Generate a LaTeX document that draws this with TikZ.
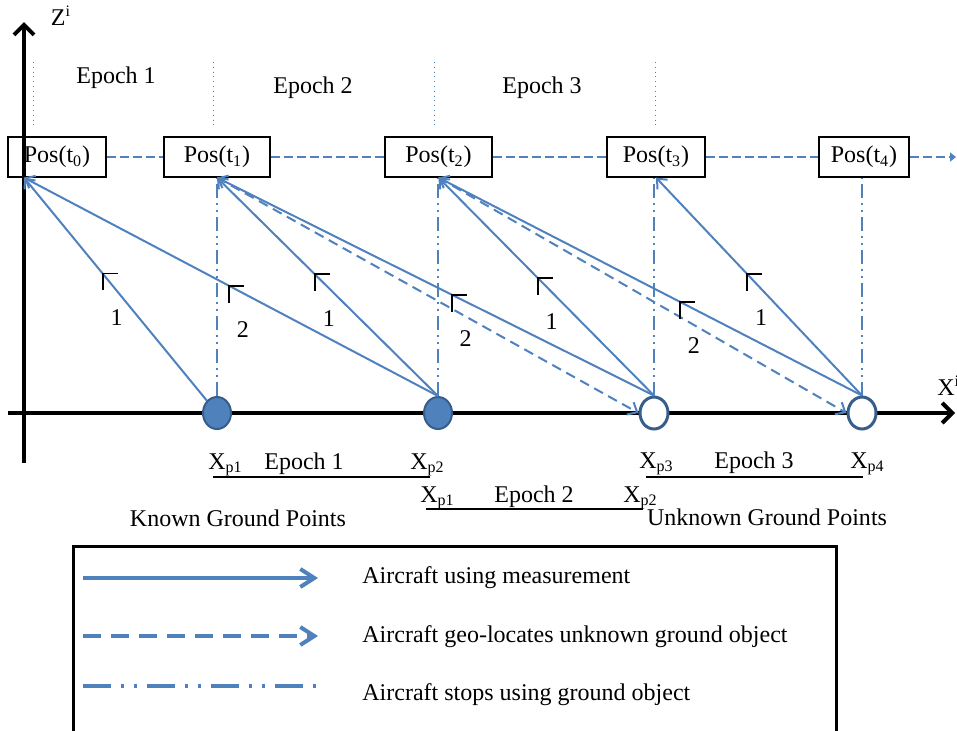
\documentclass[tikz,border=0pt]{standalone}
\usepackage{fontspec}
\setmainfont{Liberation Serif}
\usetikzlibrary{arrows.meta,shapes.geometric}
\definecolor{lineblue}{HTML}{4F81BD}
\definecolor{rimblue}{HTML}{385D8A}

\begin{document}
\begin{tikzpicture}[x=0.5pt,y=-0.5pt,
		font=\fontsize{12}{14}\selectfont,
		posbox/.style={draw,line width=0.6pt,minimum height=20pt,inner sep=0pt},
		known/.style={ellipse,draw=rimblue,line width=1pt,fill=lineblue,minimum width=14pt,minimum height=16pt,inner sep=0pt},
		unknown/.style={ellipse,draw=rimblue,line width=1.5pt,fill=white,minimum width=14pt,minimum height=16pt,inner sep=0pt},
		meas/.style={lineblue,line width=1pt,-{Straight Barb[length=4pt,width=7pt]}},
		geoloc/.style={lineblue,line width=1pt,dash pattern=on 5pt off 3pt,-{Straight Barb[length=4pt,width=7pt]}},
		stops/.style={lineblue,line width=1.2pt,dash pattern=on 7pt off 2.5pt on 1pt off 2.5pt on 1pt off 2.5pt},
		track/.style={lineblue,line width=1.2pt,dash pattern=on 4.5pt off 2pt},
		axis/.style={line width=2pt,-{Straight Barb[length=5pt,width=10pt]}},
		marker/.style={line width=0.9pt},
		span/.style={line width=1pt}]
	\useasboundingbox (0,0) rectangle (957,730);

	% axes
	\coordinate (zbase) at (24,463);
	\coordinate (ztip) at (24,22);
	\coordinate (xbase) at (8,413);
	\coordinate (xtip) at (955,413);
	\draw[axis] (zbase) -- (ztip);
	\draw[axis] (xbase) -- (xtip);
	\node[anchor=base] (zlabel) at (61,25) {Z\textsuperscript{i}};
	\node[anchor=base west,inner sep=0pt] (xlabel) at (937,395) {X\textsuperscript{i}};

	% epochs on top
	\foreach \x in {33,213,434,655}
		\draw[lineblue,line width=0.4pt,dotted] (\x,62) -- (\x,128);
	\node[anchor=base] (epa) at (116,83) {Epoch 1};
	\node[anchor=base] (epb) at (313,93) {Epoch 2};
	\node[anchor=base] (epc) at (542,93) {Epoch 3};

	% aircraft positions
	\node[posbox,minimum width=49pt] (p0) at (57,157) {Pos(t\textsubscript{0})};
	\node[posbox,minimum width=53pt] (p1) at (217,157) {Pos(t\textsubscript{1})};
	\node[posbox,minimum width=53.5pt] (p2) at (438.5,157) {Pos(t\textsubscript{2})};
	\node[posbox,minimum width=49pt] (p3) at (656,157) {Pos(t\textsubscript{3})};
	\node[posbox,minimum width=45pt] (p4) at (864,157) {Pos(t\textsubscript{4})};
	\coordinate (trackend) at (956,157);
	\draw[track] (p0) -- (p1) (p1) -- (p2) (p2) -- (p3) (p3) -- (p4);
	\draw[track,-{Triangle[length=3pt,width=4.5pt]}] (p4) -- (trackend);
	\coordinate (z0) at (zbase |- p0.south);

	% ground points
	\node[known] (xp1) at (217,413) {};
	\node[known] (xp2) at (438,413) {};
	\node[unknown] (xp3) at (654,413) {};
	\node[unknown] (xp4) at (862,413) {};

	% stops
	\draw[stops] (xp1) -- (p1);
	\draw[stops] (xp2) -- (xp2 |- p2.south);
	\draw[stops] (xp3) -- (xp3 |- p3.south);
	\draw[stops] (xp4) -- (xp4 |- p4.south);

	% measurements
	\draw[meas] (xp1) -- coordinate[pos=0.57] (ma) (z0);
	\draw[meas] (xp2.north) -- coordinate[pos=0.505] (mb) (z0);
	\draw[meas] (xp2.north) -- coordinate[pos=0.557] (mc) (p1.south);
	\draw[meas] (xp3.north) -- coordinate[pos=0.463] (md) (p1.south);
	\draw[meas] (xp3.north) -- coordinate[pos=0.54] (me) (p2.south);
	\draw[meas] (xp4.north) -- coordinate[pos=0.43] (mf) (p2.south);
	\draw[meas] (xp4.north) -- coordinate[pos=0.558] (mg) (p3.south);

	% geo-location
	\draw[geoloc] (p1.south) -- (xp3.west);
	\draw[geoloc] (p2.south) -- (xp4.west);

	\foreach \m/\n in {ma/1,mb/2,mc/1,md/2,me/1,mf/2,mg/1} {
		\draw[marker] ([xshift=7.5pt]\m) -- (\m) -- ([yshift=-8.5pt]\m);
		\node (lab\m) at ([xshift=7pt,yshift=-22pt]\m) {\n};
	}

	% epochs below
	\node[anchor=base west,inner sep=0pt] (xa1) at (208,469) {X\textsubscript{p1}};
	\node[anchor=base] (eba) at (304,469) {Epoch 1};
	\node[anchor=base west,inner sep=0pt] (xa2) at (410,469) {X\textsubscript{p2}};
	\draw[span] (213,477) -- (430,477);
	\node[anchor=base west,inner sep=0pt] (xb1) at (420,502) {X\textsubscript{p1}};
	\node[anchor=base] (ebb) at (534,502) {Epoch 2};
	\node[anchor=base west,inner sep=0pt] (xb2) at (623,502) {X\textsubscript{p2}};
	\draw[span] (426,509) -- (643,509);
	\node[anchor=base west,inner sep=0pt] (xc3) at (639,468) {X\textsubscript{p3}};
	\node[anchor=base] (ebc) at (754,468) {Epoch 3};
	\node[anchor=base west,inner sep=0pt] (xc4) at (850,468) {X\textsubscript{p4}};
	\draw[span] (646,477) -- (863,477);
	\node[anchor=base] (knownlab) at (238,526) {Known Ground Points};
	\node[anchor=base] (unknownlab) at (767,525) {Unknown Ground Points};

	% legend
	\draw[line width=1.5pt] (73,731) |- (836,546) -- (836,731);
	\coordinate (la1) at (83,578);
	\coordinate (lb1) at (318,578);
	\coordinate (la2) at (83,636);
	\coordinate (lb2) at (318,636);
	\coordinate (la3) at (83,686);
	\coordinate (lb3) at (318,686);
	\draw[meas,line width=2pt,-{Straight Barb[length=7pt,width=9pt]}] (la1) -- (lb1);
	\draw[geoloc,line width=2pt,dash pattern=on 9pt off 5pt,-{Straight Barb[length=7pt,width=9pt]}] (la2) -- (lb2);
	\draw[stops,line width=2pt,dash pattern=on 14pt off 5pt on 1.5pt off 5pt on 1.5pt off 5pt] (la3) -- (lb3);
	\node[anchor=base west,inner sep=0pt] (leg1) at (362,583) {Aircraft using measurement};
	\node[anchor=base west,inner sep=0pt] (leg2) at (362,642) {Aircraft geo-locates unknown ground object};
	\node[anchor=base west,inner sep=0pt] (leg3) at (362,700) {Aircraft stops using ground object};
\end{tikzpicture}
\end{document}
